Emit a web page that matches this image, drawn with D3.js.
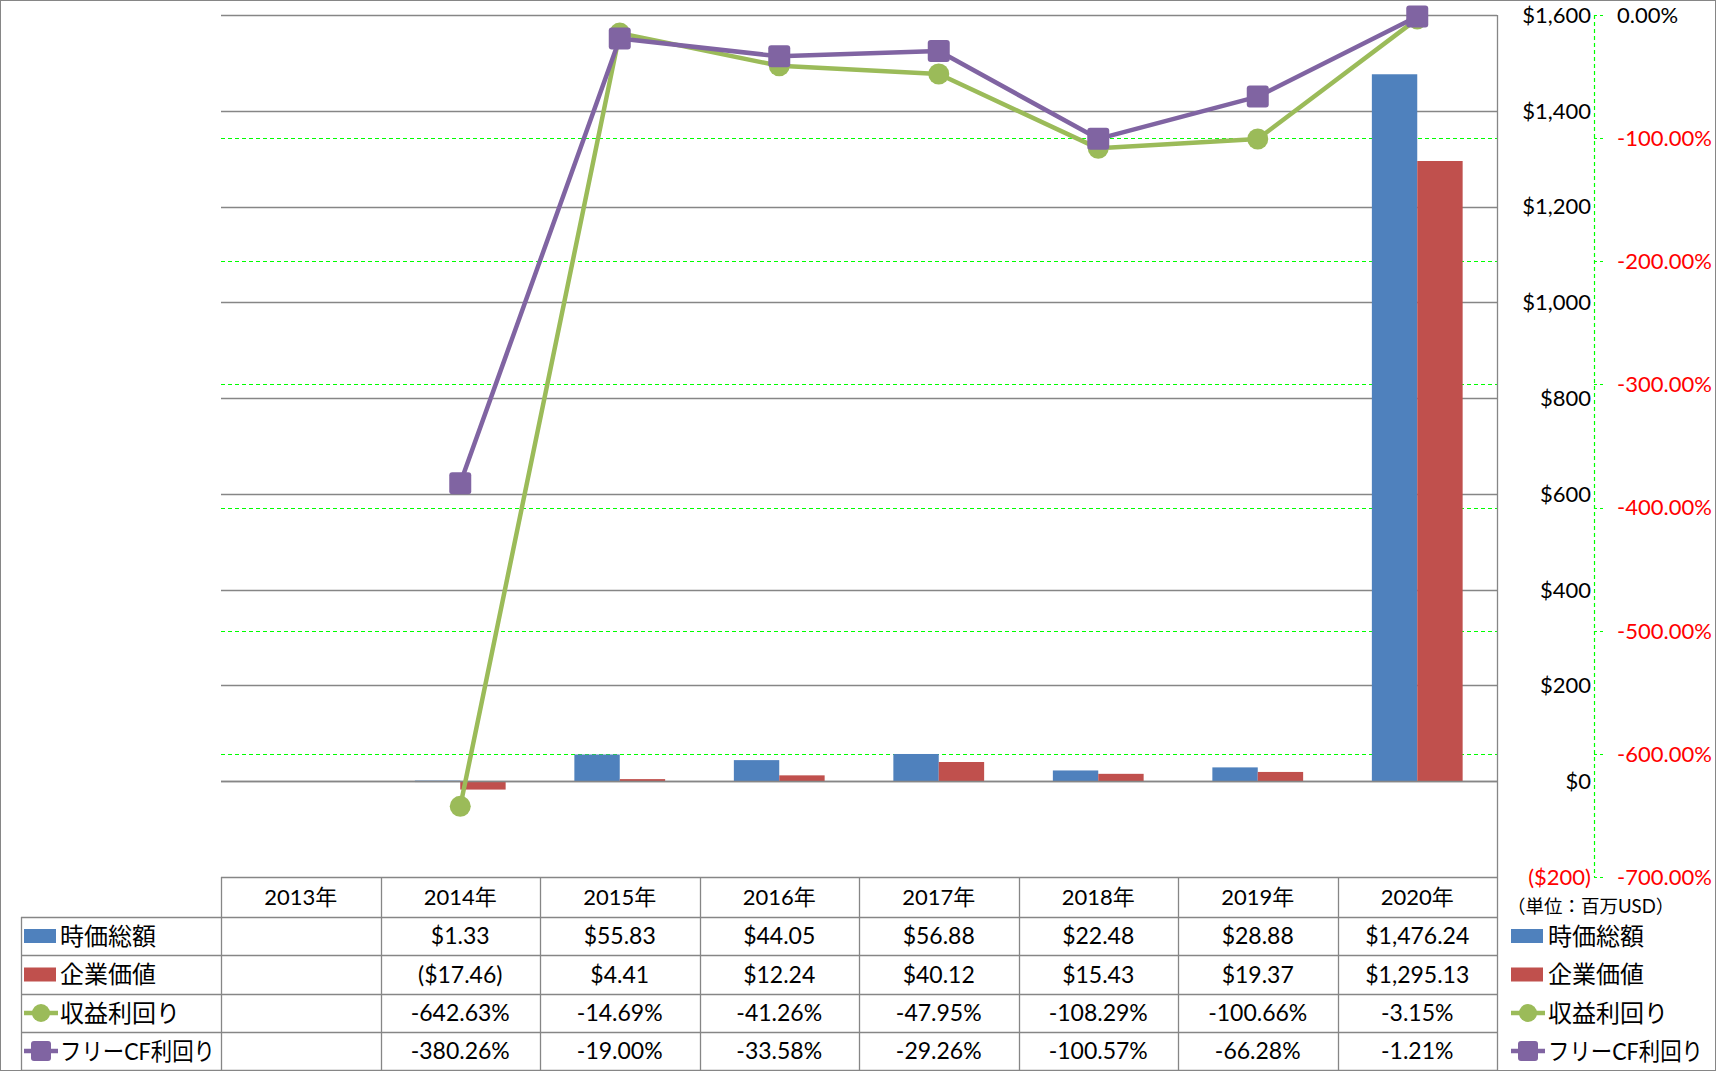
<!DOCTYPE html>
<html>
<head>
<meta charset="utf-8">
<script src="https://cdn.jsdelivr.net/npm/d3@7"></script>
<style>
  body { margin: 0; background: #fff; }
  svg text { font-family: Lato, "Noto Sans CJK JP", sans-serif; fill: #000; }
</style>
</head>
<body>
<div id="chart"></div>
<script>
// Data
const years = ["2013年", "2014年", "2015年", "2016年", "2017年", "2018年", "2019年", "2020年"];
const marketCap = [null, 1.33, 55.83, 44.05, 56.88, 22.48, 28.88, 1476.24];
const enterpriseValue = [null, -17.46, 4.41, 12.24, 40.12, 15.43, 19.37, 1295.13];
const earningsYield = [null, -642.63, -14.69, -41.26, -47.95, -108.29, -100.66, -3.15];
const fcfYield = [null, -380.26, -19.0, -33.58, -29.26, -100.57, -66.28, -1.21];
const seriesNames = ["時価総額", "企業価値", "収益利回り", "フリーCF利回り"];
const leftTicks = [-200, 0, 200, 400, 600, 800, 1000, 1200, 1400, 1600];
const rightTicks = [-700, -600, -500, -400, -300, -200, -100, 0];
const unitLabel = "（単位：百万USD）";

// Layout
const W = 1716;
const H = 1071;
const PLOT_L = 221;
const PLOT_R = 1497;
const PLOT_T = 15;
const PLOT_B = 877;
const RIGHT_AXIS_X = 1594;
const TABLE_L = 21;
const ROW_EDGES = [877, 917, 955, 994, 1032, 1070];
const GRID = "#868686";
const BLUE = "#4F81BD";
const RED = "#C0504D";
const GREEN = "#9BBB59";
const PURPLE = "#8064A2";
const LIME = "#00FF00";

// plain hyphen for negatives, like the spreadsheet
const locale = d3.formatLocale({ decimal: ".", thousands: ",", grouping: [3], currency: ["$", ""], minus: "-" });
const fmtComma = locale.format(",");
const fmtComma2 = locale.format(",.2f");
const fmtFixed2 = locale.format(".2f");

const svg = d3.select("#chart").append("svg").attr("width", W).attr("height", H);

svg.append("rect")
  .attr("x", 0.5).attr("y", 0.5)
  .attr("width", W - 1).attr("height", H - 1)
  .attr("fill", "#fff").attr("stroke", GRID);

// Scales
const x = d3.scaleBand().domain(years).range([PLOT_L, PLOT_R]).paddingInner(0).paddingOuter(0);
const xSub = d3.scaleBand().domain(["cap", "ev"]).range([0, x.bandwidth()]).paddingInner(0).paddingOuter(0.757);
const yL = d3.scaleLinear().domain([-200, 1600]).range([PLOT_B, PLOT_T]);
const yR = d3.scaleLinear().domain([-700, 0]).range([PLOT_B, PLOT_T]);

// Gridlines (left axis, gray)
svg.append("g").selectAll("line")
  .data(leftTicks.filter((d) => d > -200))
  .join("line")
  .attr("x1", PLOT_L).attr("x2", PLOT_R)
  .attr("y1", (d) => Math.round(yL(d)) + 0.5)
  .attr("y2", (d) => Math.round(yL(d)) + 0.5)
  .attr("stroke", GRID).attr("stroke-width", 1.3);

// Gridlines (right axis, green dashed)
svg.append("g").selectAll("line")
  .data(rightTicks.filter((d) => d > -700 && d < 0))
  .join("line")
  .attr("x1", PLOT_L).attr("x2", PLOT_R)
  .attr("y1", (d) => Math.round(yR(d)) + 0.5)
  .attr("y2", (d) => Math.round(yR(d)) + 0.5)
  .attr("stroke", LIME).attr("stroke-width", 1.2)
  .attr("stroke-dasharray", "4,3");

// Bars
const barData = [];
years.forEach((yr, i) => {
  if (marketCap[i] !== null) barData.push({ yr, key: "cap", v: marketCap[i], c: BLUE });
  if (enterpriseValue[i] !== null) barData.push({ yr, key: "ev", v: enterpriseValue[i], c: RED });
});
svg.append("g").selectAll("rect")
  .data(barData)
  .join("rect")
  .attr("x", (d) => x(d.yr) + xSub(d.key))
  .attr("width", xSub.bandwidth())
  .attr("y", (d) => Math.min(yL(d.v), yL(0)))
  .attr("height", (d) => Math.max(Math.abs(yL(d.v) - yL(0)), 1.5))
  .attr("fill", (d) => d.c);

// Zero line drawn again over bars
svg.append("line")
  .attr("x1", PLOT_L).attr("x2", PLOT_R)
  .attr("y1", Math.round(yL(0)) + 0.5).attr("y2", Math.round(yL(0)) + 0.5)
  .attr("stroke", GRID).attr("stroke-width", 1.3);

// Lines
function drawLine(values, color, marker) {
  const pts = years.map((yr, i) => ({ yr, v: values[i] })).filter((d) => d.v !== null);
  const line = d3.line()
    .x((d) => x(d.yr) + x.bandwidth() / 2)
    .y((d) => yR(d.v));
  svg.append("path")
    .datum(pts)
    .attr("d", line)
    .attr("fill", "none")
    .attr("stroke", color)
    .attr("stroke-width", 4.5)
    .attr("stroke-linejoin", "round");
  const g = svg.append("g");
  if (marker === "circle") {
    g.selectAll("circle").data(pts).join("circle")
      .attr("cx", (d) => x(d.yr) + x.bandwidth() / 2)
      .attr("cy", (d) => yR(d.v))
      .attr("r", 10.5)
      .attr("fill", color);
  } else {
    g.selectAll("rect").data(pts).join("rect")
      .attr("x", (d) => x(d.yr) + x.bandwidth() / 2 - 11)
      .attr("y", (d) => yR(d.v) - 11)
      .attr("width", 22).attr("height", 22)
      .attr("rx", 3)
      .attr("fill", color);
  }
}
drawLine(earningsYield, GREEN, "circle");
drawLine(fcfYield, PURPLE, "square");

// Left value axis labels (placed at right of plot)
const fmtDollar = (d) => (d < 0 ? "($" + fmtComma(-d) + ")" : "$" + fmtComma(d));
svg.append("g").selectAll("text")
  .data(leftTicks)
  .join("text")
  .attr("x", 1591)
  .attr("y", (d) => yL(d))
  .attr("dy", "0.36em")
  .attr("text-anchor", "end")
  .attr("font-size", 22)
  .style("fill", (d) => (d < 0 ? "#FF0000" : "#000"))
  .text(fmtDollar);

// Right percentage axis (green dashed)
svg.append("line")
  .attr("x1", RIGHT_AXIS_X + 0.5).attr("x2", RIGHT_AXIS_X + 0.5)
  .attr("y1", PLOT_T).attr("y2", PLOT_B)
  .attr("stroke", LIME).attr("stroke-width", 1.2)
  .attr("stroke-dasharray", "4,3");
svg.append("g").selectAll("line")
  .data(rightTicks)
  .join("line")
  .attr("x1", RIGHT_AXIS_X).attr("x2", RIGHT_AXIS_X + 9)
  .attr("y1", (d) => Math.round(yR(d)) + 0.5)
  .attr("y2", (d) => Math.round(yR(d)) + 0.5)
  .attr("stroke", LIME).attr("stroke-width", 1.2)
  .attr("stroke-dasharray", "3,3");
svg.append("g").selectAll("text")
  .data(rightTicks)
  .join("text")
  .attr("x", 1617)
  .attr("y", (d) => yR(d))
  .attr("dy", "0.36em")
  .attr("font-size", 22)
  .style("fill", (d) => (d < 0 ? "#FF0000" : "#000"))
  .text((d) => fmtFixed2(d) + "%");

// Data table
const table = svg.append("g");
// horizontal lines
table.append("line")
  .attr("x1", PLOT_L).attr("x2", PLOT_R)
  .attr("y1", ROW_EDGES[0] + 0.5).attr("y2", ROW_EDGES[0] + 0.5)
  .attr("stroke", GRID).attr("stroke-width", 1.3);
ROW_EDGES.slice(1).forEach((ry) => {
  table.append("line")
    .attr("x1", TABLE_L).attr("x2", PLOT_R)
    .attr("y1", ry + 0.5).attr("y2", ry + 0.5)
    .attr("stroke", GRID).attr("stroke-width", 1.3);
});
// vertical lines
years.forEach((yr) => {
  table.append("line")
    .attr("x1", Math.round(x(yr)) + 0.5).attr("x2", Math.round(x(yr)) + 0.5)
    .attr("y1", ROW_EDGES[0]).attr("y2", ROW_EDGES[5])
    .attr("stroke", GRID).attr("stroke-width", 1.3);
});
table.append("line")
  .attr("x1", PLOT_R + 0.5).attr("x2", PLOT_R + 0.5)
  .attr("y1", PLOT_T).attr("y2", ROW_EDGES[5])
  .attr("stroke", GRID).attr("stroke-width", 1.3);
table.append("line")
  .attr("x1", TABLE_L + 0.5).attr("x2", TABLE_L + 0.5)
  .attr("y1", ROW_EDGES[1]).attr("y2", ROW_EDGES[5])
  .attr("stroke", GRID).attr("stroke-width", 1.3);

const rowMid = (r) => (ROW_EDGES[r] + ROW_EDGES[r + 1]) / 2;

// header
table.selectAll(".hdr").data(years).join("text")
  .attr("class", "hdr")
  .attr("x", (d) => x(d) + x.bandwidth() / 2)
  .attr("y", rowMid(0))
  .attr("dy", "0.36em")
  .attr("text-anchor", "middle")
  .attr("font-size", 22)
  .text((d) => d);

const fmtMoney = (v) => (v < 0 ? "($" + fmtComma2(-v) + ")" : "$" + fmtComma2(v));
const fmtPct = (v) => fmtFixed2(v) + "%";
const rows = [
  { vals: marketCap, fmt: fmtMoney },
  { vals: enterpriseValue, fmt: fmtMoney },
  { vals: earningsYield, fmt: fmtPct },
  { vals: fcfYield, fmt: fmtPct }
];
rows.forEach((row, r) => {
  table.append("g").selectAll("text")
    .data(years.map((yr, i) => ({ yr, v: row.vals[i] })).filter((d) => d.v !== null))
    .join("text")
    .attr("x", (d) => x(d.yr) + x.bandwidth() / 2)
    .attr("y", rowMid(r + 1))
    .attr("dy", "0.36em")
    .attr("text-anchor", "middle")
    .attr("font-size", 23)
    .text((d) => row.fmt(d.v));
});

// Legend keys (table row headers and right-side legend)
function legendKey(g, i, kx, ky) {
  if (i < 2) {
    g.append("rect")
      .attr("x", kx).attr("y", ky - 7)
      .attr("width", 32).attr("height", 14)
      .attr("fill", i === 0 ? BLUE : RED);
  } else {
    const c = i === 2 ? GREEN : PURPLE;
    g.append("line")
      .attr("x1", kx).attr("x2", kx + 34)
      .attr("y1", ky).attr("y2", ky)
      .attr("stroke", c).attr("stroke-width", 4.5);
    if (i === 2) {
      g.append("circle").attr("cx", kx + 17).attr("cy", ky).attr("r", 9).attr("fill", c);
    } else {
      g.append("rect")
        .attr("x", kx + 7).attr("y", ky - 10)
        .attr("width", 20).attr("height", 20)
        .attr("rx", 3).attr("fill", c);
    }
  }
}
function legendText(g, tx, ty, name, i) {
  const t = g.append("text")
    .attr("x", tx).attr("y", ty).attr("dy", "0.36em")
    .attr("font-size", 24)
    .text(name);
  if (i === 3) t.attr("textLength", 155).attr("lengthAdjust", "spacingAndGlyphs");
}
seriesNames.forEach((name, i) => {
  const cy = rowMid(i + 1);
  const g1 = table.append("g");
  legendKey(g1, i, 24, cy);
  legendText(g1, 60, cy, name, i);
  const g2 = svg.append("g");
  legendKey(g2, i, 1511, cy);
  legendText(g2, 1548, cy, name, i);
});

svg.append("text")
  .attr("x", 1507).attr("y", 906)
  .attr("dy", "0.36em")
  .attr("font-size", 18.5)
  .text(unitLabel);
</script>
</body>
</html>
